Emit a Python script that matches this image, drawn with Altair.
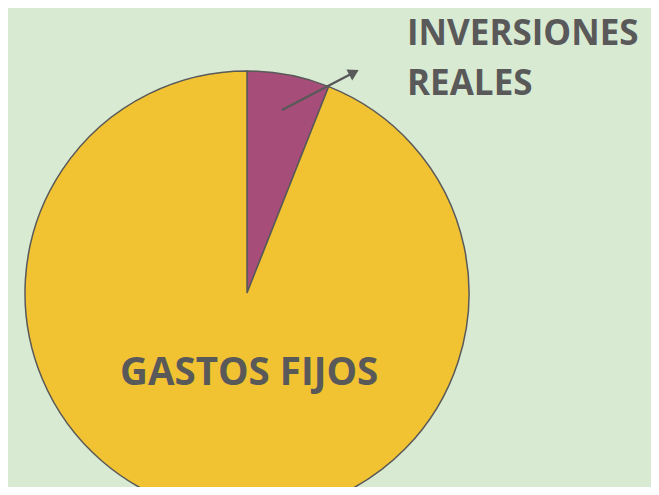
import altair as alt
import pandas as pd

categories = ["INVERSIONES REALES", "GASTOS FIJOS"]
values = [6, 94]
order = [0, 1]
colors = ["#a64d79", "#f1c232"]

df = pd.DataFrame({"cat": categories, "val": values, "ord": order})

W, H = 643, 479
BG = "#d9ead3"
TXT = "#595959"
FONT = "Open Sans"

pie = alt.Chart(df).mark_arc(stroke=TXT, strokeWidth=1.5).encode(
    theta=alt.Theta("val:Q", stack=True),
    color=alt.Color("cat:N", scale=alt.Scale(domain=categories, range=colors), legend=None),
    order=alt.Order("ord:Q"),
    x=alt.value(239),
    y=alt.value(285),
    radius=alt.value(222),
)

top_df = pd.DataFrame({"t": ["INVERSIONES", "REALES"], "x": [399, 399], "y": [26, 76]})
top_labels = alt.Chart(top_df).mark_text(
    font=FONT, fontWeight="bold", fontSize=35, color=TXT, align="left", baseline="middle"
).encode(x=alt.X("x:Q", scale=None), y=alt.Y("y:Q", scale=None), text="t:N")

bot_df = pd.DataFrame({"t": ["GASTOS FIJOS"], "x": [112], "y": [365]})
bot_label = alt.Chart(bot_df).mark_text(
    font=FONT, fontWeight="bold", fontSize=38.5, color=TXT, align="left", baseline="middle"
).encode(x=alt.X("x:Q", scale=None), y=alt.Y("y:Q", scale=None), text="t:N")

arrow_df = pd.DataFrame({"x": [274, 343], "y": [102, 66]})
arrow_line = alt.Chart(arrow_df).mark_line(color=TXT, strokeWidth=2.5).encode(
    x=alt.X("x:Q", scale=None), y=alt.Y("y:Q", scale=None)
)
head = alt.Chart(pd.DataFrame({"x": [346], "y": [64.5]})).mark_point(
    shape="triangle-up", filled=True, color=TXT, size=150, angle=62, opacity=1
).encode(x=alt.X("x:Q", scale=None), y=alt.Y("y:Q", scale=None))

chart = alt.layer(pie, arrow_line, head, top_labels, bot_label).properties(
    width=W, height=H, background=BG, padding=0, autosize="none"
).configure_view(stroke=None)

chart.save("out.html", embed_options={"renderer": "svg", "actions": False})
